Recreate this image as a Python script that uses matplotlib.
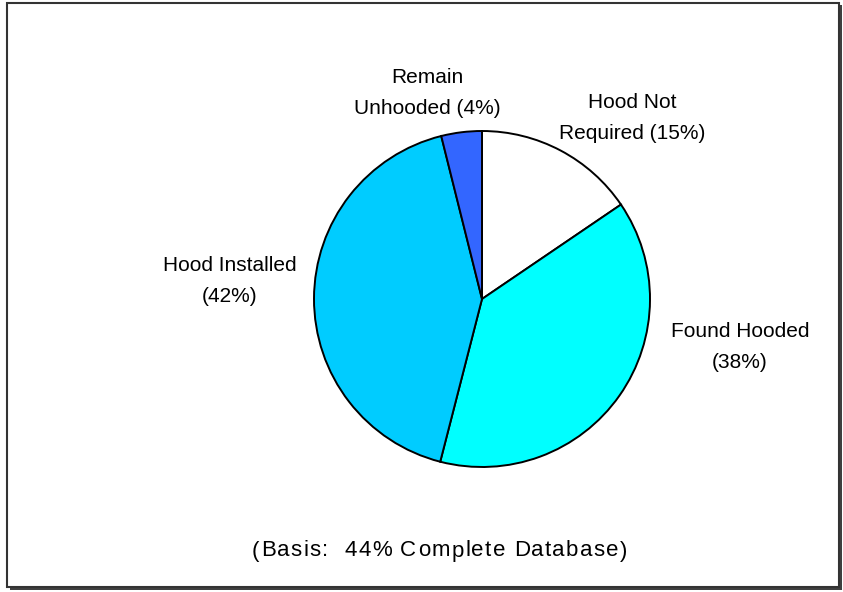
import matplotlib
matplotlib.use('Agg')
import matplotlib.pyplot as plt
from matplotlib.patches import Rectangle
from matplotlib.font_manager import FontProperties
from matplotlib.textpath import TextToPath

# slice shares (clockwise from 12 o'clock)
names = ['Hood Not\nRequired (15%)', 'Found Hooded\n(38%)', 'Hood Installed\n(42%)', 'Remain\nUnhooded (4%)']
shares = [15.5, 38.5, 42.1, 3.9]
colors = ['#FFFFFF', '#00FFFF', '#00CCFF', '#3366FF']
label_pos = [(632, 118), (740, 347), (230, 281), (427, 93)]
note = '(Basis:  44% Complete Database)'

plt.rcParams['font.family'] = ['Liberation Sans', 'DejaVu Sans']

W, H = 843, 592
DPI = 100
FS = 15
NOTE_FS = 16
fig = plt.figure(figsize=(W / DPI, H / DPI), dpi=DPI)
ax = fig.add_axes([0, 0, 1, 1])

# frame with a little shadow
ax.add_patch(Rectangle((10, 2), 832, 585, facecolor='#404040', edgecolor='none'))
ax.add_patch(Rectangle((7, 5), 832, 584, facecolor='white', edgecolor='#333333', lw=1.5))

ax.pie(shares, colors=colors, startangle=90, counterclock=False,
       center=(482, H - 299), radius=168, frame=True,
       wedgeprops=dict(edgecolor='black', linewidth=1.4))
ax.set_xlim(0, W)
ax.set_ylim(0, H)
ax.set_aspect('auto')
ax.axis('off')

for txt, (x, y) in zip(names, label_pos):
    ax.text(x, H - y, txt, ha='center', va='center', fontsize=FS, linespacing=1.75)

# the footnote is slightly letter-spaced in the original: place it char by char
fp = FontProperties(family='Liberation Sans', size=NOTE_FS)
ttp = TextToPath()
def width_px(s):
    if not s:
        return 0.0
    return ttp.get_text_width_height_descent(s, fp, ismath=False)[0] * DPI / 72

left, right = 252, 627
base = width_px(note)
track = max(0.0, (right - left - base) / (len(note) - 1))
for i, ch in enumerate(note):
    x = left + width_px(note[:i]) + track * i
    ax.text(x, H - 551, ch, ha='left', va='center', fontsize=NOTE_FS)

fig.savefig('out.png', dpi=DPI)
